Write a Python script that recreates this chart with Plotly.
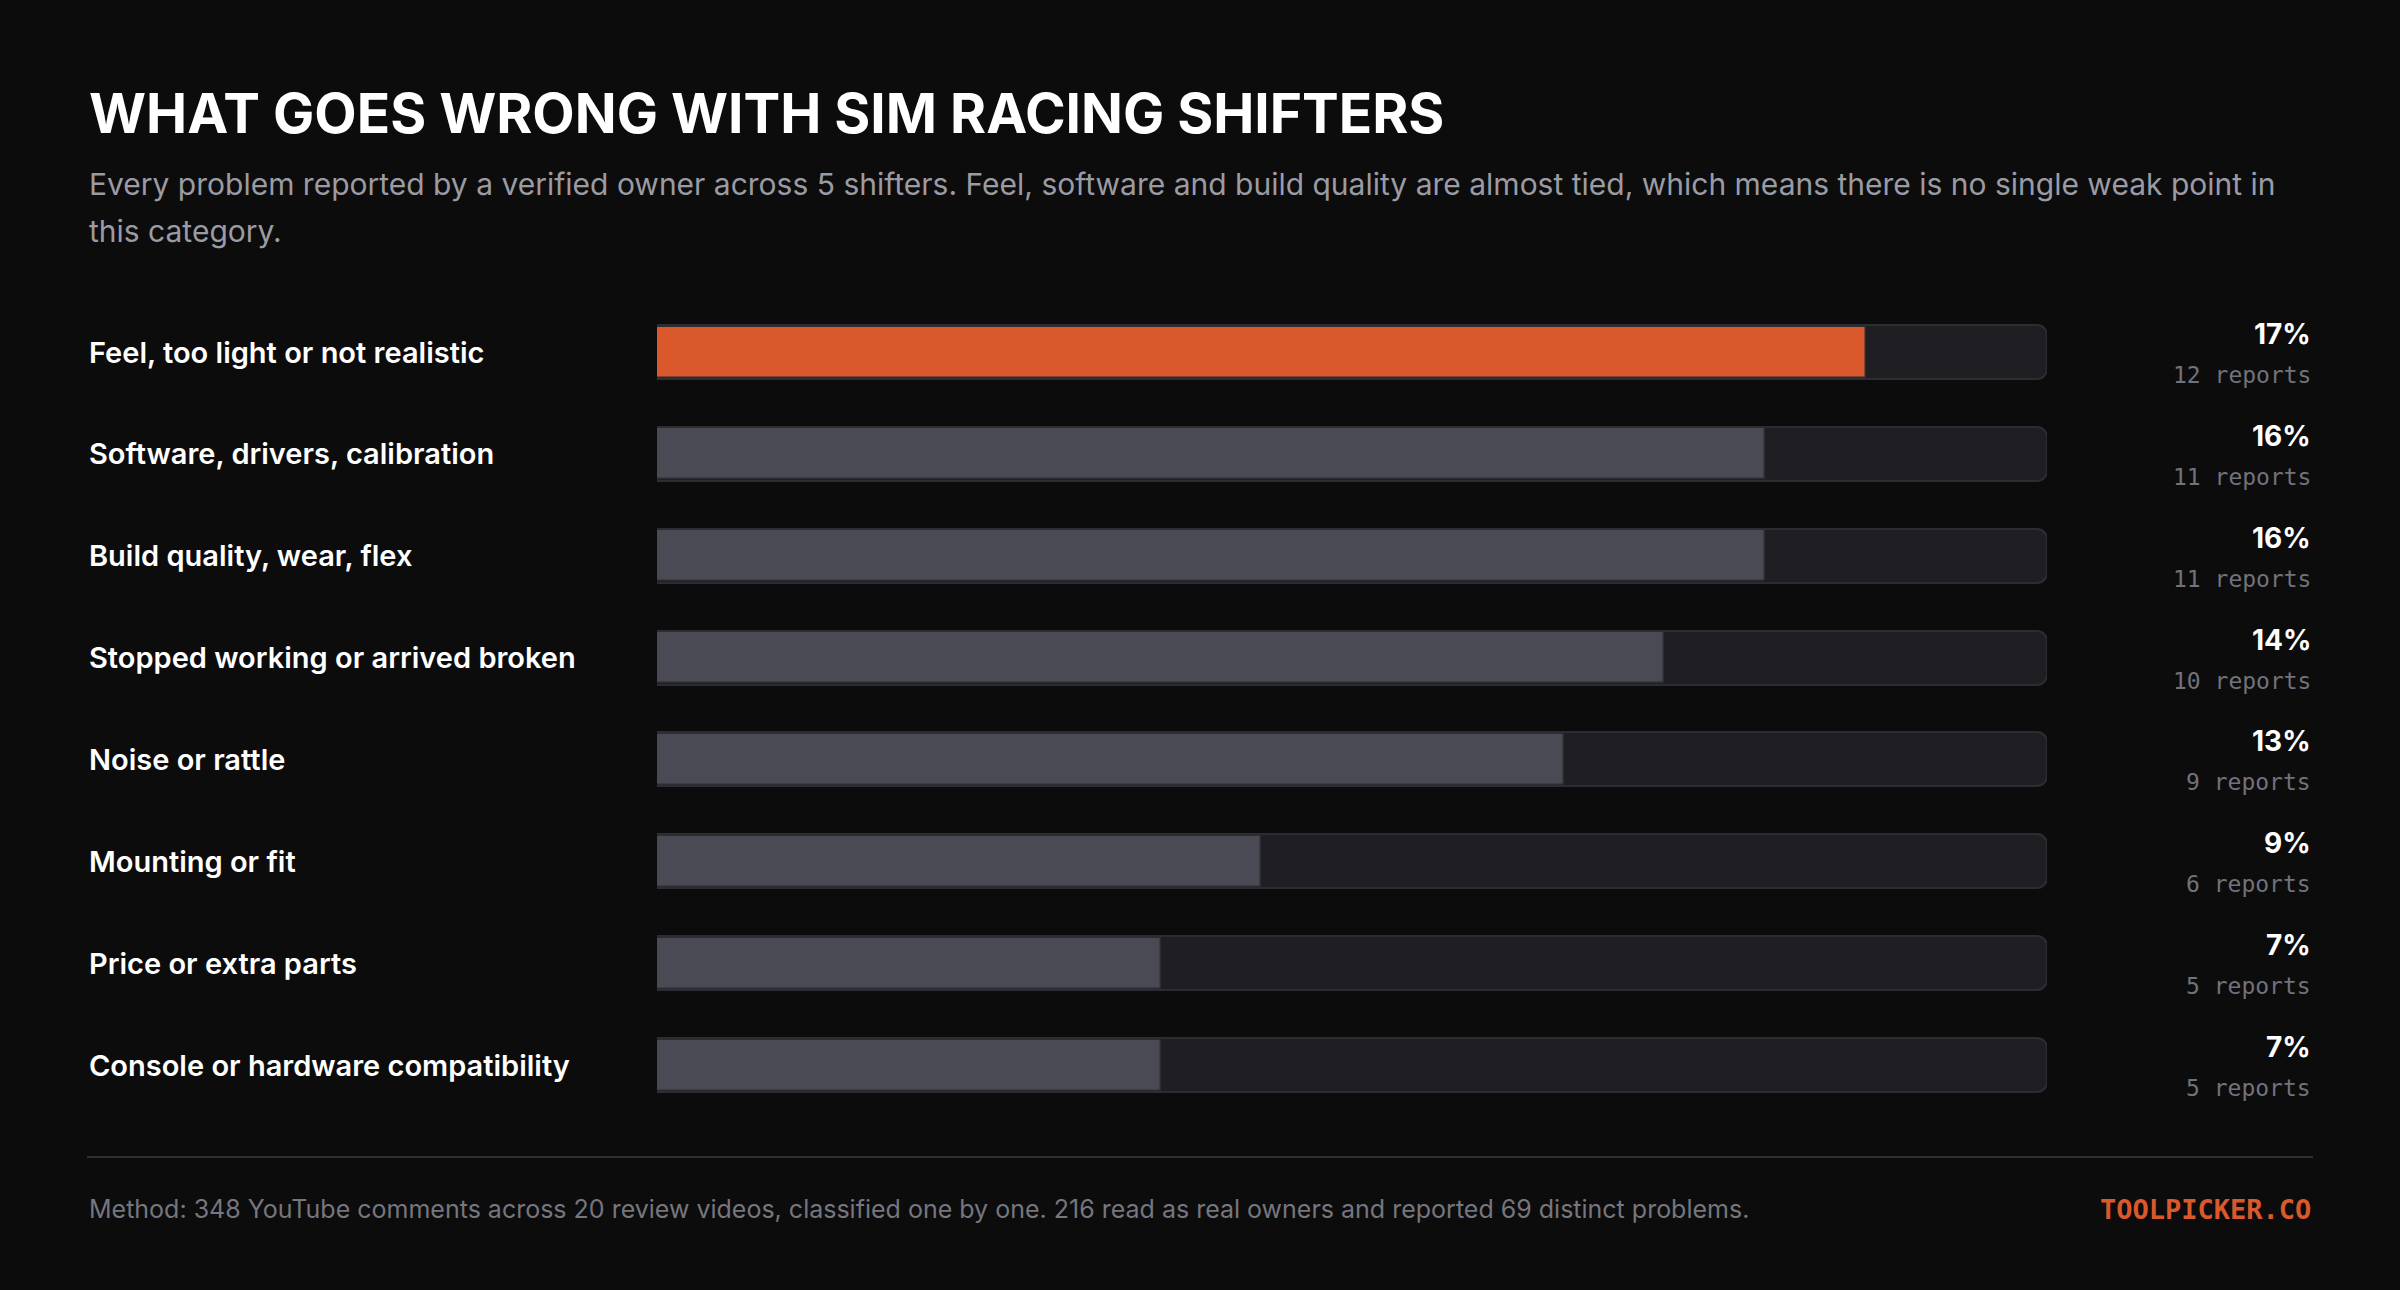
import plotly.graph_objects as go

# ---- data ----
categories = [
    "Feel, too light or not realistic",
    "Software, drivers, calibration",
    "Build quality, wear, flex",
    "Stopped working or arrived broken",
    "Noise or rattle",
    "Mounting or fit",
    "Price or extra parts",
    "Console or hardware compatibility",
]
reports = [12, 11, 11, 10, 9, 6, 5, 5]
total_problems = 69
percents = [r / total_problems * 100 for r in reports]
pct_labels = [f"{round(p)}%" for p in percents]
report_labels = [f"{r} reports" for r in reports]
scale_max = max(percents) * 1.15

title_text = "WHAT GOES WRONG WITH SIM RACING SHIFTERS"
subtitle_lines = [
    "Every problem reported by a verified owner across 5 shifters. Feel, software and build quality are almost tied, which means there is no single weak point in",
    "this category.",
]
footer_text = "Method: 348 YouTube comments across 20 review videos, classified one by one. 216 read as real owners and reported 69 distinct problems."
brand_text = "TOOLPICKER.CO"

# ---- styling ----
W, H = 2400, 1290
BG = "#0c0c0d"
ORANGE = "#d9592c"
GRAY_BAR = "#4a4a54"
TRACK = "#1f1f23"
TRACK_LINE = "#2c2c32"
LEFT = 87
RIGHT = 2313
TRACK_X0, TRACK_X1 = 657, 2047
ROW0, ROW_STEP = 352, 101.86
BAR_H_PX = 54

def px_x(p):
    return p / W

def px_y(p):
    return 1 - p / H

bar_colors = [ORANGE] + [GRAY_BAR] * (len(categories) - 1)

fig = go.Figure()
fig.add_trace(go.Bar(
    y=categories, x=[scale_max] * len(categories), orientation="h",
    marker=dict(color=TRACK, line=dict(color=TRACK_LINE, width=2), cornerradius=10),
    width=BAR_H_PX / ROW_STEP, hoverinfo="skip", showlegend=False,
))
fig.add_trace(go.Bar(
    y=categories, x=percents, orientation="h",
    marker=dict(color=bar_colors, line=dict(color=TRACK_LINE, width=1.5), cornerradius=9),
    width=(BAR_H_PX - 3) / ROW_STEP, hoverinfo="skip", showlegend=False,
))

y_top = -ROW0 / ROW_STEP
y_bot = (H - ROW0) / ROW_STEP

annotations = []
annotations.append(dict(
    text=f"<b>{title_text}</b>", x=px_x(LEFT), y=px_y(113), xref="paper", yref="paper",
    xanchor="left", yanchor="middle", showarrow=False,
    font=dict(family="Inter", size=55, color="#ffffff", weight=800),
))
for i, line in enumerate(subtitle_lines):
    annotations.append(dict(
        text=line, x=px_x(LEFT), y=px_y(184 + 47 * i), xref="paper", yref="paper",
        xanchor="left", yanchor="middle", showarrow=False,
        font=dict(family="Inter", size=30, color="#9b9ba3"),
    ))
for cat, pl, rl in zip(categories, pct_labels, report_labels):
    annotations.append(dict(
        text=cat, x=px_x(LEFT), y=cat, xref="paper", yref="y",
        xanchor="left", yanchor="middle", showarrow=False,
        font=dict(family="Inter", size=29, color="#ffffff", weight=600),
    ))
    annotations.append(dict(
        text=f"<b>{pl}</b>", x=px_x(RIGHT), y=cat, xref="paper", yref="y", yshift=18,
        xanchor="right", yanchor="middle", showarrow=False,
        font=dict(family="Inter", size=28, color="#ffffff"),
    ))
    annotations.append(dict(
        text=rl, x=px_x(RIGHT), y=cat, xref="paper", yref="y", yshift=-23,
        xanchor="right", yanchor="middle", showarrow=False,
        font=dict(family="DejaVu Sans Mono", size=23, color="#72727a"),
    ))
annotations.append(dict(
    text=footer_text, x=px_x(LEFT), y=px_y(1209), xref="paper", yref="paper",
    xanchor="left", yanchor="middle", showarrow=False,
    font=dict(family="Inter", size=25, color="#76767e"),
))
annotations.append(dict(
    text=f"<b>{brand_text}</b>", x=px_x(RIGHT), y=px_y(1209), xref="paper", yref="paper",
    xanchor="right", yanchor="middle", showarrow=False,
    font=dict(family="DejaVu Sans Mono", size=27, color=ORANGE),
))

fig.update_layout(
    width=W, height=H, margin=dict(l=0, r=0, t=0, b=0),
    paper_bgcolor=BG, plot_bgcolor=BG, barmode="overlay", bargap=0,
    barcornerradius=9,
    xaxis=dict(domain=[px_x(TRACK_X0), px_x(TRACK_X1)], range=[0, scale_max],
               visible=False, fixedrange=True),
    yaxis=dict(domain=[0, 1], range=[y_bot, y_top], type="category",
               visible=False, fixedrange=True, categoryorder="array", categoryarray=categories),
    annotations=annotations,
    shapes=[dict(type="line", xref="paper", yref="paper", x0=px_x(LEFT), x1=px_x(RIGHT),
                 y0=px_y(1157), y1=px_y(1157), line=dict(color="#2e2e33", width=2))],
)

fig.write_html(
    "out.html",
    config={"displayModeBar": False},
    post_script="document.body.style.margin='0';document.body.style.background='#0c0c0d';",
)
